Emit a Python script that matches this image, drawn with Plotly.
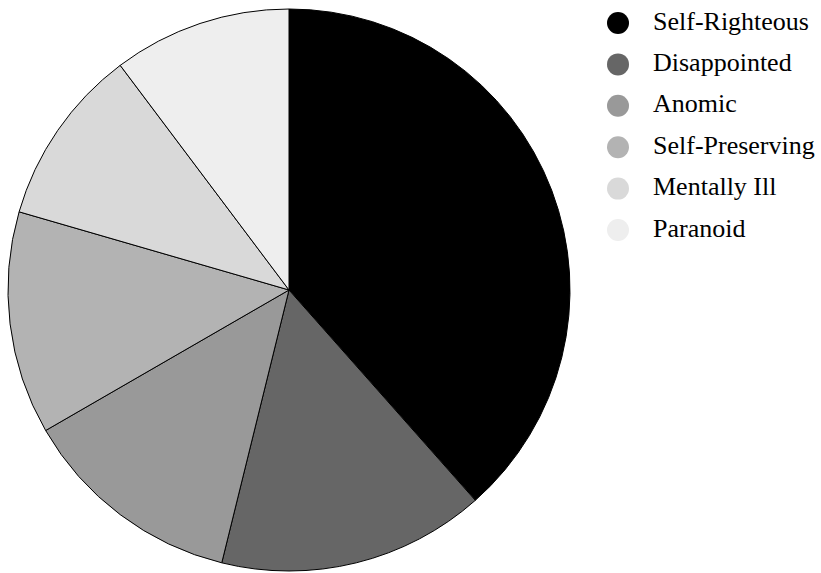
import plotly.graph_objects as go

# Counts per category
categories = ["Self-Righteous", "Disappointed", "Anomic", "Self-Preserving", "Mentally Ill", "Paranoid"]
counts = [15, 6, 5, 5, 4, 4]
colors = ["#000000", "#666666", "#999999", "#b3b3b3", "#d9d9d9", "#eeeeee"]

W, H = 821, 573

fig = go.Figure()

fig.add_trace(go.Pie(
    labels=categories,
    values=counts,
    sort=False,
    direction="clockwise",
    rotation=0,
    marker=dict(colors=colors, line=dict(color="#000000", width=1)),
    textinfo="none",
    hoverinfo="label+value+percent",
    showlegend=False,
    domain=dict(x=[8 / W, 570 / W], y=[2 / H, 564 / H]),
))

# Custom legend with round markers, laid out in pixel units
leg_x = 618
leg_y0 = 23
leg_step = 41.4
rows = [leg_y0 + i * leg_step for i in range(len(categories))]

fig.add_trace(go.Scatter(
    x=[leg_x] * len(categories),
    y=rows,
    mode="markers",
    marker=dict(size=22, color=colors, line=dict(width=0)),
    hoverinfo="skip",
    showlegend=False,
))
fig.add_trace(go.Scatter(
    x=[leg_x + 35] * len(categories),
    y=rows,
    mode="text",
    text=categories,
    textposition="middle right",
    textfont=dict(family="Liberation Serif", size=26, color="#000000"),
    hoverinfo="skip",
    showlegend=False,
))

fig.update_layout(
    width=W,
    height=H,
    margin=dict(l=0, r=0, t=0, b=0),
    paper_bgcolor="white",
    plot_bgcolor="rgba(0,0,0,0)",
    font=dict(family="Liberation Serif"),
    xaxis=dict(range=[0, W], visible=False, fixedrange=True),
    yaxis=dict(range=[H, 0], visible=False, fixedrange=True),
)

fig.write_html("out.html")
